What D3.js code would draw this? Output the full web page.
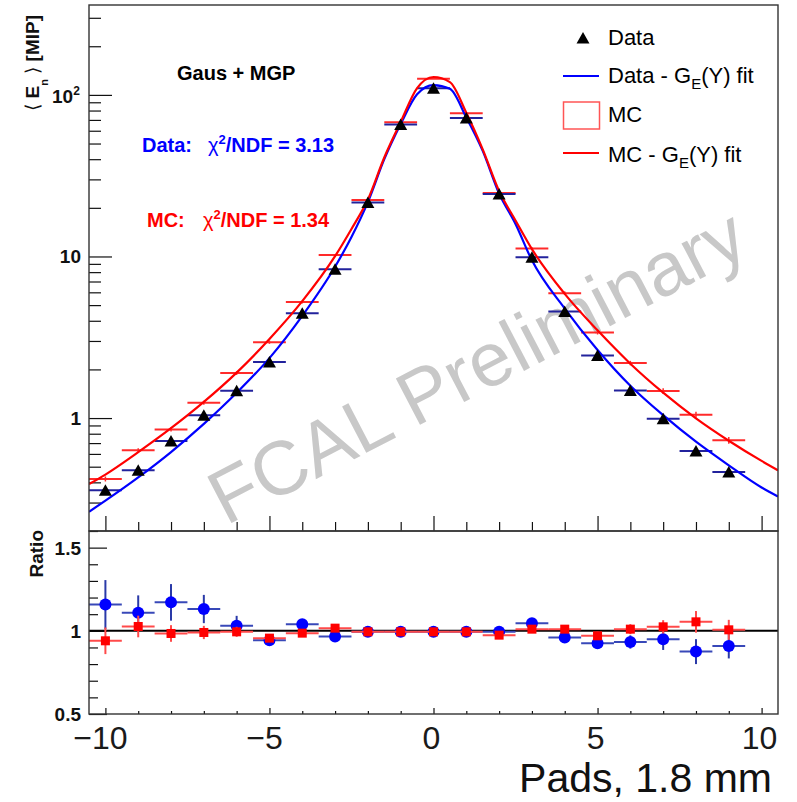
<!DOCTYPE html>
<html>
<head>
<meta charset="utf-8">
<script src="https://cdn.jsdelivr.net/npm/d3@7"></script>
<style>
html, body { margin: 0; padding: 0; background: #fff; }
svg { display: block; font-family: "Liberation Sans", Arial, Helvetica, sans-serif; }
</style>
</head>
<body>
<svg id="chart" width="797" height="802"></svg>
<script>
// pad positions (bin centres)
const pads = [-10, -9, -8, -7, -6, -5, -4, -3, -2, -1, 0, 1, 2, 3, 4, 5, 6, 7, 8, 9];

// <E_n> per pad, data and MC
const dataVals = [0.357, 0.475, 0.721, 1.04, 1.476, 2.22, 4.46, 8.35, 21.6, 65.5, 110, 72, 24.4, 9.9, 4.57, 2.44, 1.48, 0.99, 0.625, 0.464];
const mcVals   = [0.42, 0.631, 0.851, 1.245, 1.90, 2.95, 5.22, 10.2, 22.4, 67.6, 126, 77, 24.7, 11.2, 5.93, 3.39, 2.19, 1.47, 1.05, 0.728];
const mcErr    = [0.015, 0.02, 0.025, 0.035, 0.05, 0.07, 0.1, 0.15, 0.2, 0.4, 0.6, 0.5, 0.3, 0.2, 0.15, 0.1, 0.07, 0.06, 0.045, 0.035];

// fit curves
const fitX    = [-10.5, -10, -9, -8, -7, -6, -5, -4, -3, -2.5, -2, -1.5, -1, -0.5, 0, 0.5, 1, 1.5, 2, 2.5, 3, 4, 5, 6, 7, 8, 9, 10, 10.5];
const dataFit = [0.263, 0.308, 0.429, 0.616, 0.92, 1.433, 2.35, 4.29, 8.64, 13.2, 21.7, 40, 66, 101, 115, 109, 72.4, 45, 24.5, 15.9, 9.46, 4.76, 2.64, 1.586, 1.042, 0.714, 0.51, 0.372, 0.327];
const mcFit   = [0.39, 0.447, 0.615, 0.865, 1.258, 1.91, 3.086, 5.29, 10.04, 14.8, 22.5, 41, 68, 110, 129, 120, 77.5, 46, 25.4, 16.7, 11.1, 5.87, 3.49, 2.17, 1.435, 0.996, 0.724, 0.543, 0.475];

// ratio panel
const ratioData    = [1.158, 1.108, 1.171, 1.131, 1.03, 0.944, 1.04, 0.966, 0.994, 0.994, 0.994, 0.994, 0.994, 1.046, 0.96, 0.925, 0.933, 0.95, 0.875, 0.909];
const ratioDataErr = [0.147, 0.105, 0.11, 0.085, 0.06, 0.03, 0.02, 0.015, 0.01, 0.01, 0.01, 0.01, 0.01, 0.02, 0.02, 0.03, 0.04, 0.065, 0.075, 0.075];
const ratioMC      = [0.94, 1.026, 0.984, 0.99, 0.994, 0.956, 0.986, 1.016, 0.994, 0.994, 0.994, 0.994, 0.974, 1.01, 1.01, 0.97, 1.01, 1.024, 1.054, 1.006];
const ratioMCErr   = [0.08, 0.065, 0.05, 0.04, 0.03, 0.02, 0.015, 0.01, 0.01, 0.01, 0.01, 0.01, 0.01, 0.015, 0.02, 0.025, 0.03, 0.04, 0.065, 0.06];

const xMajor = [-10, -5, 0, 5, 10];
const xMinor = [-9, -8, -7, -6, -4, -3, -2, -1, 1, 2, 3, 4, 6, 7, 8, 9];
const yMajor = [1, 10, 100];
const yMinor = [0.3, 0.4, 0.5, 0.6, 0.7, 0.8, 0.9, 2, 3, 4, 5, 6, 7, 8, 9, 20, 30, 40, 50, 60, 70, 80, 90, 200, 300];
const rMajor = [0.5, 1, 1.5];
const rMinor = [0.6, 0.7, 0.8, 0.9, 1.1, 1.2, 1.3, 1.4, 1.6];

const L = 89, R = 778, T = 5, MID = 531, B = 714;
const svg = d3.select("#chart");

const x = d3.scaleLinear().domain([-10.5, 10.5]).range([L, R]);
const yTop = d3.scaleLog().domain([0.2, 360]).range([MID, T]);
const yRat = d3.scaleLinear().domain([0.5, 1.6]).range([B, MID]);

const BLUE = "#0000ff", RED = "#ff0000";
const BLUE_BAR = "#22229c", RED_BAR = "#ff2a2a";

svg.append("defs").append("clipPath").attr("id", "topclip")
  .append("rect").attr("x", L).attr("y", T).attr("width", R - L).attr("height", MID - T);

// watermark
svg.append("text")
  .attr("transform", "translate(226,526) rotate(-27.5)")
  .attr("font-size", 76)
  .attr("fill", "#c8c8c8")
  .text("FCAL Preliminary");

// ---------- top panel axes ----------
function tickAxis(axisFn, scale, vals, size, tx, ty) {
  const g = svg.append("g").attr("transform", `translate(${tx},${ty})`)
    .call(axisFn(scale).tickValues(vals).tickSize(size).tickSizeOuter(0).tickFormat(""));
  g.select(".domain").remove();
  g.selectAll("line").attr("stroke", "#111").attr("stroke-width", 1.2);
  return g;
}

tickAxis(d3.axisBottom, x, xMinor, -9, 0, MID);
tickAxis(d3.axisBottom, x, xMajor, -15, 0, MID);
tickAxis(d3.axisLeft, yTop, yMinor, -12, L, 0);
tickAxis(d3.axisLeft, yTop, yMajor, -23, L, 0);

const yLab = svg.append("g").attr("font-weight", "bold").attr("font-size", 19).attr("fill", "#111");
yLab.append("text").attr("x", 81).attr("y", yTop(1) + 7).attr("text-anchor", "end").text("1");
yLab.append("text").attr("x", 81).attr("y", yTop(10) + 7).attr("text-anchor", "end").text("10");
const hundred = yLab.append("text").attr("x", 52).attr("y", yTop(100) + 8);
hundred.append("tspan").text("10");
hundred.append("tspan").attr("font-size", 12).attr("dy", -8).text("2");

// y title
const yTitle = svg.append("text")
  .attr("transform", "translate(39,15) rotate(-90)")
  .attr("text-anchor", "end")
  .attr("font-weight", "bold").attr("font-size", 19).attr("fill", "#111");
yTitle.append("tspan").attr("font-weight", "normal").text("\u27E8 ");
yTitle.append("tspan").text("E");
yTitle.append("tspan").attr("font-size", 11).attr("dy", 9).text("n");
yTitle.append("tspan").attr("dy", -9).attr("font-weight", "normal").text(" \u27E9 ");
yTitle.append("tspan").text("[MIP]");

// ---------- top panel data ----------
const plot = svg.append("g").attr("clip-path", "url(#topclip)");

const line = d3.line().x(d => x(d[0])).y(d => yTop(d[1])).curve(d3.curveMonotoneX);

// MC bars
pads.forEach((p, i) => {
  plot.append("line").attr("x1", x(p - 0.5)).attr("x2", x(p + 0.5))
    .attr("y1", yTop(mcVals[i])).attr("y2", yTop(mcVals[i]))
    .attr("stroke", RED_BAR).attr("stroke-width", 2);
  plot.append("line").attr("x1", x(p)).attr("x2", x(p))
    .attr("y1", yTop(mcVals[i] + mcErr[i])).attr("y2", yTop(mcVals[i] - mcErr[i]))
    .attr("stroke", RED_BAR).attr("stroke-width", 1.5);
});
// data bars
pads.forEach((p, i) => {
  plot.append("line").attr("x1", x(p - 0.5)).attr("x2", x(p + 0.5))
    .attr("y1", yTop(dataVals[i])).attr("y2", yTop(dataVals[i]))
    .attr("stroke", BLUE_BAR).attr("stroke-width", 2);
});

plot.append("path").datum(fitX.map((v, i) => [v, dataFit[i]]))
  .attr("d", line).attr("fill", "none").attr("stroke", BLUE).attr("stroke-width", 2.2);
plot.append("path").datum(fitX.map((v, i) => [v, mcFit[i]]))
  .attr("d", line).attr("fill", "none").attr("stroke", RED).attr("stroke-width", 2.2);

function tri(cx, cy) {
  return `M${cx - 6.5},${cy + 5.5}L${cx + 6.5},${cy + 5.5}L${cx},${cy - 6}Z`;
}
plot.selectAll("path.tri").data(pads).enter().append("path")
  .attr("class", "tri")
  .attr("d", (p, i) => tri(x(p), yTop(dataVals[i])))
  .attr("fill", "#000");

// frame
svg.append("rect").attr("x", L).attr("y", T).attr("width", R - L).attr("height", MID - T)
  .attr("fill", "none").attr("stroke", "#333").attr("stroke-width", 1.4);

// annotations
svg.append("text").attr("x", 177).attr("y", 80).attr("font-weight", "bold").attr("font-size", 20)
  .attr("fill", "#000").text("Gaus + MGP");

function chiText(label, lx, cx, y, val, color) {
  svg.append("text").attr("x", lx).attr("y", y).attr("font-weight", "bold").attr("font-size", 20)
    .attr("fill", color).text(label);
  const t = svg.append("text").attr("x", cx).attr("y", y).attr("font-weight", "bold").attr("font-size", 20)
    .attr("fill", color);
  t.append("tspan").attr("font-weight", "normal").text("\u03C7");
  t.append("tspan").attr("font-size", 13).attr("dy", -8).text("2");
  t.append("tspan").attr("dy", 8).text("/NDF = " + val);
}
chiText("Data:", 142, 208, 152, "3.13", BLUE);
chiText("MC:", 147, 203, 227, "1.34", RED);

// legend
const leg = svg.append("g").attr("font-size", 22).attr("fill", "#000");
leg.append("path").attr("d", tri(583, 38)).attr("fill", "#000");
leg.append("text").attr("x", 608).attr("y", 45).text("Data");
leg.append("line").attr("x1", 563).attr("x2", 599).attr("y1", 76).attr("y2", 76)
  .attr("stroke", BLUE).attr("stroke-width", 2.2);
function fitLabel(prefix, y) {
  const t = leg.append("text").attr("x", 608).attr("y", y);
  t.append("tspan").text(prefix + " - G");
  t.append("tspan").attr("font-size", 15).attr("dy", 6).text("E");
  t.append("tspan").attr("dy", -6).text("(Y) fit");
}
fitLabel("Data", 83);
leg.append("rect").attr("x", 563.5).attr("y", 102).attr("width", 36).attr("height", 27)
  .attr("fill", "none").attr("stroke", "#f55").attr("stroke-width", 1.5);
leg.append("text").attr("x", 608).attr("y", 122).text("MC");
leg.append("line").attr("x1", 563).attr("x2", 599).attr("y1", 153).attr("y2", 153)
  .attr("stroke", RED).attr("stroke-width", 2.2);
fitLabel("MC", 162);

// ---------- ratio panel ----------
tickAxis(d3.axisBottom, x, xMinor, -3, 0, B);
tickAxis(d3.axisBottom, x, xMajor, -6, 0, B);
tickAxis(d3.axisLeft, yRat, rMinor, -9, L, 0);
tickAxis(d3.axisLeft, yRat, rMajor, -18, L, 0);

const rLab = svg.append("g").attr("font-weight", "bold").attr("font-size", 19).attr("fill", "#111")
  .attr("text-anchor", "end");
rMajor.forEach(v => {
  rLab.append("text").attr("x", 81).attr("y", yRat(v) + 7).text(d3.format("")(v));
});

svg.append("text").attr("transform", "translate(43,530) rotate(-90)")
  .attr("text-anchor", "end").attr("font-weight", "bold").attr("font-size", 19)
  .attr("fill", "#111").text("Ratio");

svg.append("line").attr("x1", L).attr("x2", R).attr("y1", yRat(1)).attr("y2", yRat(1))
  .attr("stroke", "#000").attr("stroke-width", 2);

const rp = svg.append("g");
pads.forEach((p, i) => {
  rp.append("line").attr("x1", x(p - 0.5)).attr("x2", x(p + 0.5))
    .attr("y1", yRat(ratioData[i])).attr("y2", yRat(ratioData[i]))
    .attr("stroke", "#3848b8").attr("stroke-width", 2);
  rp.append("line").attr("x1", x(p)).attr("x2", x(p))
    .attr("y1", yRat(ratioData[i] + ratioDataErr[i])).attr("y2", yRat(ratioData[i] - ratioDataErr[i]))
    .attr("stroke", "#2a3aa8").attr("stroke-width", 2);
});
rp.selectAll("circle").data(pads).enter().append("circle")
  .attr("cx", p => x(p)).attr("cy", (p, i) => yRat(ratioData[i])).attr("r", 6)
  .attr("fill", BLUE);
pads.forEach((p, i) => {
  rp.append("line").attr("x1", x(p - 0.5)).attr("x2", x(p + 0.5))
    .attr("y1", yRat(ratioMC[i])).attr("y2", yRat(ratioMC[i]))
    .attr("stroke", "#ff4a4a").attr("stroke-width", 2);
  rp.append("line").attr("x1", x(p)).attr("x2", x(p))
    .attr("y1", yRat(ratioMC[i] + ratioMCErr[i])).attr("y2", yRat(ratioMC[i] - ratioMCErr[i]))
    .attr("stroke", "#ff4a4a").attr("stroke-width", 2);
});
rp.selectAll("rect.sq").data(pads).enter().append("rect").attr("class", "sq")
  .attr("x", p => x(p) - 4.5).attr("y", (p, i) => yRat(ratioMC[i]) - 4.5)
  .attr("width", 9).attr("height", 9).attr("fill", RED);

svg.append("rect").attr("x", L).attr("y", MID).attr("width", R - L).attr("height", B - MID)
  .attr("fill", "none").attr("stroke", "#333").attr("stroke-width", 1.4);

// x labels
const xl = svg.append("g").attr("font-size", 32).attr("fill", "#1a1a1a").attr("text-anchor", "middle");
xMajor.forEach(v => {
  xl.append("text").attr("x", x(v) - (v < 0 ? 5 : 2)).attr("y", 749).text(d3.format("")(v));
});
svg.append("text").attr("x", 772).attr("y", 792).attr("text-anchor", "end")
  .attr("font-size", 41).attr("fill", "#111").text("Pads, 1.8 mm");
</script>
</body>
</html>
